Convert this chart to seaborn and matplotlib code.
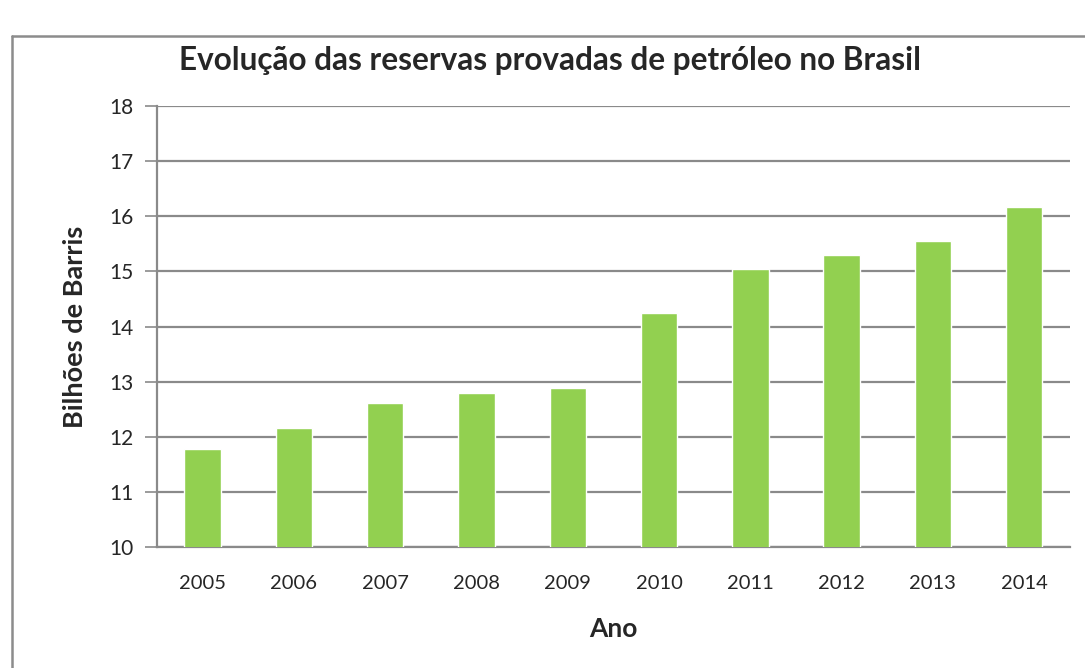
import matplotlib
matplotlib.use("Agg")
import matplotlib.pyplot as plt
import seaborn as sns
import pandas as pd
from matplotlib.lines import Line2D

# dados do gráfico
anos = ['2005', '2006', '2007', '2008', '2009', '2010', '2011', '2012', '2013', '2014']
reservas = [11.77, 12.16, 12.62, 12.80, 12.88, 14.24, 15.05, 15.29, 15.55, 16.17]
y_ticks = [10, 11, 12, 13, 14, 15, 16, 17, 18]

titulo = "Evolução das reservas provadas de petróleo no Brasil"
cor_barra = '#92D050'
cor_grade = '#8a8a8a'

sns.set_style("white")
plt.rcParams['font.family'] = ['Lato', 'DejaVu Sans']

df = pd.DataFrame({'Ano': anos, 'Reservas': reservas})

fig = plt.figure(figsize=(10.85, 6.68), dpi=100)
ax = fig.add_axes([0.1447, 0.1811, 0.8413, 0.6602])

sns.barplot(data=df, x='Ano', y='Reservas', color=cor_barra, width=0.4,
            saturation=1, ax=ax, zorder=3)

ax.set_ylim(10, 18)
ax.set_xlim(-0.5, len(anos) - 0.5)
ax.set_yticks(y_ticks)
ax.yaxis.grid(True, color=cor_grade, linewidth=1.6, zorder=0)
ax.set_axisbelow(True)

for s in ['top', 'right']:
    ax.spines[s].set_visible(False)
ax.spines['left'].set_color(cor_grade)
ax.spines['left'].set_linewidth(1.6)
ax.spines['bottom'].set_color(cor_grade)
ax.spines['bottom'].set_linewidth(1.6)

# ticks do eixo x nas fronteiras das categorias
ax.set_xticks([i - 0.5 for i in range(len(anos) + 1)], minor=True)
ax.tick_params(axis='x', which='minor', length=9, width=1.2, color=cor_grade, direction='out')
ax.tick_params(axis='x', which='major', length=0, pad=20, labelsize=14.5)
ax.tick_params(axis='y', length=9, width=1.2, color=cor_grade, direction='out',
               labelsize=15, pad=8, left=True)

ax.set_xlabel("Ano", fontsize=19, fontweight='bold', labelpad=18)
ax.set_ylabel("Bilhões de Barris", fontsize=19.5, fontweight='bold', labelpad=16)

fig.text(0.507, 0.91, titulo, ha='center', va='center', fontsize=22.7, fontweight='bold')

# moldura do gráfico
fig.add_artist(Line2D([12 / 1085, 1.0], [1 - 36 / 668, 1 - 36 / 668],
                      transform=fig.transFigure, color='#8c8c8c', linewidth=1.8))
fig.add_artist(Line2D([12 / 1085, 12 / 1085], [0, 1 - 36 / 668],
                      transform=fig.transFigure, color='#8c8c8c', linewidth=1.8))

plt.savefig('out.png', dpi=100)
